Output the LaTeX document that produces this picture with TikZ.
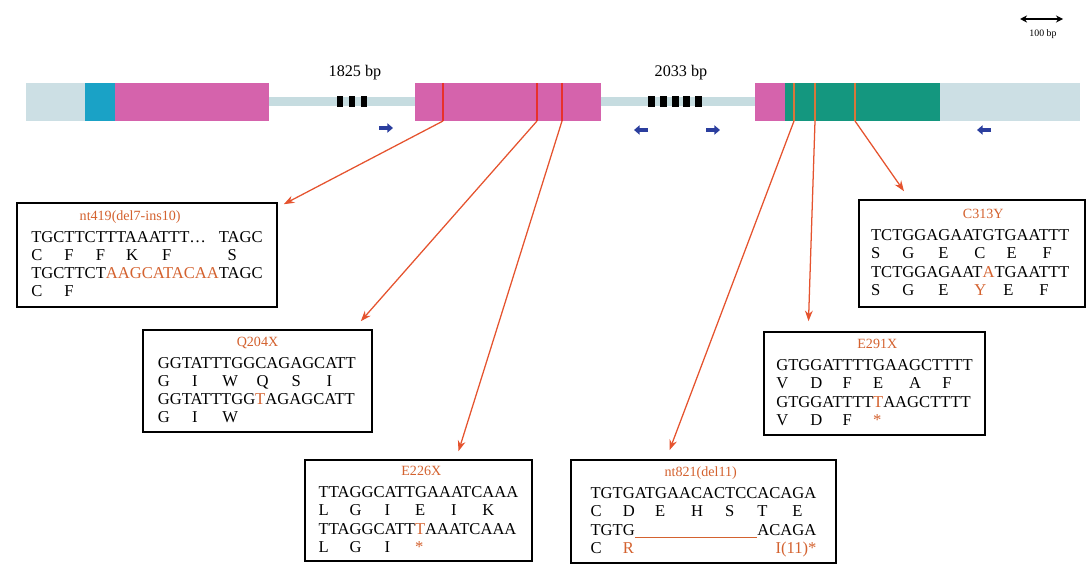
\documentclass[tikz,border=0pt]{standalone}
\usepackage{fontspec}
\setmainfont{Liberation Serif}
\usepackage{tikz}
\usetikzlibrary{arrows.meta,calc}
\definecolor{utrgrey}{HTML}{CCDFE4}
\definecolor{introngrey}{HTML}{C6DCE0}
\definecolor{signalcyan}{HTML}{1AA2C6}
\definecolor{exonpink}{HTML}{D563AC}
\definecolor{domteal}{HTML}{14977F}
\definecolor{sitered}{HTML}{E8312C}
\definecolor{siteorange}{HTML}{D8763A}
\definecolor{mutorange}{HTML}{D4622F}
\definecolor{arrowred}{HTML}{E5532E}
\definecolor{primerblue}{HTML}{2B3E9E}
\newcommand{\cdn}[2]{\rlap{#2}\phantom{#1}}
\newcommand{\mt}[1]{\textcolor{mutorange}{#1}}
\newcommand{\ttl}[2]{\multicolumn{1}{c}{\hspace*{#1}\fontsize{10}{12}\selectfont\mt{#2}\hspace*{-#1}}}
\tikzset{
  seqbox/.style={rectangle, draw=black, line width=1.1pt, fill=white,
    inner sep=0pt, font=\fontsize{11.8}{13}\selectfont},
  mutarrow/.style={-{Stealth[length=7.5pt,width=5.5pt]}, line width=0.9pt,
    color=arrowred},
  primer/.style={-{Triangle[length=4pt,width=6.5pt]}, line width=2.6pt,
    color=primerblue},
  site/.style={line width=1.6pt, color=#1},
  site/.default=sitered,
  bplabel/.style={font=\fontsize{11.5}{13}\selectfont},
}
\begin{document}
\begin{tikzpicture}[x=0.025cm, y=-0.025cm]
  \useasboundingbox (0,0) rectangle (1091,571);
  % gene
  \fill[introngrey] (269,97) rectangle (755,106);
  \fill[utrgrey] (26,83) rectangle (85,121);
  \fill[signalcyan] (85,83) rectangle (115,121);
  \fill[exonpink] (115,83) rectangle (269,121);
  \fill[exonpink] (415,83) rectangle (601,121);
  \fill[exonpink] (755,83) rectangle (785,121);
  \fill[domteal] (785,83) rectangle (940,121);
  \fill[utrgrey] (940,83) rectangle (1080,121);
  \foreach \x in {337,349,361} \fill (\x,96) rectangle ++(6,11);
  \foreach \x in {648,660,672,683,695} \fill (\x,96) rectangle ++(7,11);
  \foreach \x in {443,537,562} \draw[site] (\x,83) -- (\x,121);
  \foreach \x in {794,815,855} \draw[site=siteorange] (\x,83) -- (\x,121);
  \coordinate (s419) at (443,121);
  \coordinate (s204) at (537,121);
  \coordinate (s226) at (562,121);
  \coordinate (s821) at (794,121);
  \coordinate (s291) at (815,121);
  \coordinate (s313) at (855,121);
  \node[bplabel] (in1) at (355,73) {1825 bp};
  \node[bplabel] (in2) at (681,73) {2033 bp};
  \draw[primer] (379,128) -- (393,128);
  \draw[primer] (648,130) -- (634,130);
  \draw[primer] (706,130) -- (720,130);
  \draw[primer] (991,130) -- (977,130);
  % scale
  \node[font=\fontsize{7}{8}\selectfont] (scale) at (1043,34) {100 bp};
  \draw[{Stealth[length=5pt,width=5pt]}-{Stealth[length=5pt,width=5pt]}, line width=1.1pt]
    (1020,19) -- (1063,19);
  % mutations
  \node[seqbox, minimum width=6.5cm, minimum height=2.6cm] (nt419) at (147,255) {%
    \begin{tabular}{@{}l@{}}
      \ttl{-12pt}{nt419(del7-ins10)}\\[2.5pt]
      TGCTTCTTTAAATTT\ldots\hfill TAGC\\
      \cdn{TGC}{C}\cdn{TTC}{F}\cdn{TTT}{F}\cdn{AAA}{K}\cdn{TTT}{F}\hfill\cdn{AGC}{S}\\
      TGCTTCT\mt{AAGCATACAA}TAGC\\
      \cdn{TGC}{C}\cdn{TTC}{F}
    \end{tabular}};
  \node[seqbox, minimum width=5.725cm, minimum height=2.55cm] (q204) at (257.5,381) {%
    \begin{tabular}{@{}l@{}}
      \ttl{0pt}{Q204X}\\[2.5pt]
      GGTATTTGGCAGAGCATT\\
      \cdn{GGT}{G}\cdn{ATT}{I}\cdn{TGG}{W}\cdn{CAG}{Q}\cdn{AGC}{S}\cdn{ATT}{I}\\
      GGTATTTGG\mt{T}AGAGCATT\\
      \cdn{GGT}{G}\cdn{ATT}{I}\cdn{TGG}{W}
    \end{tabular}};
  \node[seqbox, minimum width=5.675cm, minimum height=2.525cm] (e226) at (418.5,510.5) {%
    \begin{tabular}{@{}l@{}}
      \ttl{2pt}{E226X}\\[2.5pt]
      TTAGGCATTGAAATCAAA\\
      \cdn{TTA}{L}\cdn{GGC}{G}\cdn{ATT}{I}\cdn{GAA}{E}\cdn{ATC}{I}\cdn{AAA}{K}\\
      TTAGGCATT\mt{T}AAATCAAA\\
      \cdn{TTA}{L}\cdn{GGC}{G}\cdn{ATT}{I}\cdn{TAA}{\mt{*}}
    \end{tabular}};
  \node[seqbox, minimum width=6.625cm, minimum height=2.575cm] (nt821) at (703.5,511.5) {%
    \begin{tabular}{@{}l@{}}
      \ttl{-2pt}{nt821(del11)}\\[2.5pt]
      TGTGATGAACACTCCACAGA\\
      \cdn{TGT}{C}\cdn{GAT}{D}\cdn{GAA}{E}\cdn{CAC}{H}\cdn{TCC}{S}\cdn{ACA}{T}\cdn{GA}{E}\\
      TGTG\mt{\underline{\phantom{ATGAACACTCC}}}ACAGA\\
      \cdn{TGT}{C}\cdn{GAT}{\mt{R}}\hfill\mt{I(11)*}
    \end{tabular}};
  \node[seqbox, minimum width=5.525cm, minimum height=2.575cm] (e291) at (874.5,383.5) {%
    \begin{tabular}{@{}l@{}}
      \ttl{2pt}{E291X}\\[2.5pt]
      GTGGATTTTGAAGCTTTT\\
      \cdn{GTG}{V}\cdn{GAT}{D}\cdn{TTT}{F}\cdn{GAA}{E}\cdn{GCT}{A}\cdn{TTT}{F}\\
      GTGGATTTT\mt{T}AAGCTTTT\\
      \cdn{GTG}{V}\cdn{GAT}{D}\cdn{TTT}{F}\cdn{TAA}{\mt{*}}
    \end{tabular}};
  \node[seqbox, minimum width=5.65cm, minimum height=2.675cm] (c313) at (972,253.5) {%
    \begin{tabular}{@{}l@{}}
      \ttl{8pt}{C313Y}\\[2.5pt]
      TCTGGAGAATGTGAATTT\\
      \cdn{TCT}{S}\cdn{GGA}{G}\cdn{GAA}{E}\cdn{TGT}{C}\cdn{GAA}{E}\cdn{TTT}{F}\\
      TCTGGAGAAT\mt{A}TGAATTT\\
      \cdn{TCT}{S}\cdn{GGA}{G}\cdn{GAA}{E}\cdn{TAT}{\mt{Y}}\cdn{GAA}{E}\cdn{TTT}{F}
    \end{tabular}};
  \draw[mutarrow] (s419) -- ($(nt419.north east)+(6,2)$);
  \draw[mutarrow] (s204) -- ($(q204.north east)+(-12,-8)$);
  \draw[mutarrow] (s226) -- ($(e226.north)+(40,-8)$);
  \draw[mutarrow] (s821) -- ($(nt821.north)+(-34,-9)$);
  \draw[mutarrow] (s291) -- ($(e291.north)+(-66,-10)$);
  \draw[mutarrow] (s313) -- ($(c313.north)+(-68,-8)$);
\end{tikzpicture}
\end{document}
